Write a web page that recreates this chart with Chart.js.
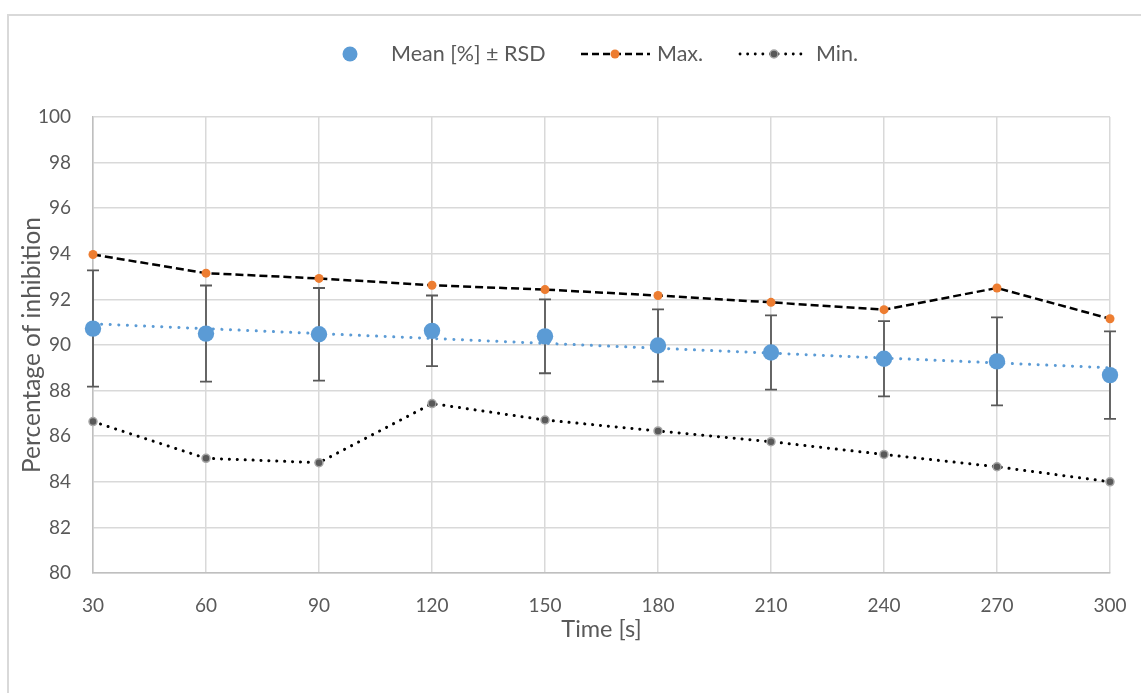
<!DOCTYPE html>
<html><head><meta charset="utf-8">
<script src="https://cdn.jsdelivr.net/npm/chart.js@4.4.1/dist/chart.umd.min.js"></script>
<style>
html,body{margin:0;padding:0;background:#fff;overflow:hidden}
#wrap{position:relative;width:1141px;height:693px;background:#fff}
#frame{position:absolute;left:7px;top:14px;width:1200px;height:800px;border:2px solid #d9d9d9;box-sizing:border-box}
canvas{position:absolute;left:0;top:0}
</style></head><body>
<div id="wrap"><div id="frame"></div><canvas id="c" width="1141" height="693"></canvas></div>
<script>
const times = [30, 60, 90, 120, 150, 180, 210, 240, 270, 300];
const meanValues = [90.72, 90.50, 90.47, 90.62, 90.38, 89.98, 89.67, 89.40, 89.28, 88.68];
const rsdValues = [2.55, 2.11, 2.03, 1.55, 1.62, 1.58, 1.63, 1.65, 1.93, 1.92];
const maxValues = [93.97, 93.15, 92.92, 92.62, 92.43, 92.17, 91.87, 91.55, 92.50, 91.15];
const minValues = [86.64, 85.03, 84.84, 87.43, 86.71, 86.23, 85.76, 85.20, 84.66, 84.00];
const trendTimes = [30, 300];
const trendValues = [90.93, 89.00];
const seriesLabels = ['Mean [%] ± RSD', 'Max.', 'Min.'];
const xTitle = 'Time [s]';
const yTitle = 'Percentage of inhibition';

const FONT = 'Lato, "Open Sans", sans-serif';
const TXT = '#595959';
const BLUE = '#5B9BD5';
const ORANGE = '#ED7D31';

const pts = (xs, ys) => xs.map((x, i) => ({x: x, y: ys[i]}));

const errorBars = {
  id: 'errorBars',
  beforeDatasetsDraw(chart) {
    const {ctx, scales: {x, y}} = chart;
    ctx.save();
    ctx.strokeStyle = TXT;
    ctx.lineWidth = 1.8;
    times.forEach((t, i) => {
      const px = x.getPixelForValue(t);
      const top = y.getPixelForValue(meanValues[i] + rsdValues[i]);
      const bot = y.getPixelForValue(meanValues[i] - rsdValues[i]);
      ctx.beginPath();
      ctx.moveTo(px, top); ctx.lineTo(px, bot);
      ctx.moveTo(px - 6, top); ctx.lineTo(px + 6, top);
      ctx.moveTo(px - 6, bot); ctx.lineTo(px + 6, bot);
      ctx.stroke();
    });
    ctx.restore();
  }
};

const customLegend = {
  id: 'customLegend',
  afterDraw(chart) {
    const ctx = chart.ctx;
    const cy = 54;
    ctx.save();
    ctx.font = '21.5px ' + FONT;
    ctx.fillStyle = TXT;
    ctx.textBaseline = 'middle';
    // Mean
    ctx.beginPath(); ctx.fillStyle = BLUE; ctx.arc(350, cy, 7.5, 0, Math.PI * 2); ctx.fill();
    ctx.fillStyle = TXT; ctx.fillText(seriesLabels[0], 391, cy);
    // Max
    ctx.strokeStyle = '#000'; ctx.lineWidth = 2.5; ctx.setLineDash([7, 4]);
    ctx.beginPath(); ctx.moveTo(581, cy); ctx.lineTo(650, cy); ctx.stroke();
    ctx.setLineDash([]);
    ctx.beginPath(); ctx.fillStyle = ORANGE; ctx.arc(615, cy, 4.5, 0, Math.PI * 2); ctx.fill();
    ctx.fillStyle = TXT; ctx.fillText(seriesLabels[1], 657, cy);
    // Min
    ctx.lineCap = 'round'; ctx.lineWidth = 2.8; ctx.setLineDash([0.1, 7.5]);
    ctx.beginPath(); ctx.moveTo(740, cy); ctx.lineTo(804, cy); ctx.stroke();
    ctx.setLineDash([]);
    ctx.beginPath(); ctx.fillStyle = '#595959'; ctx.strokeStyle = '#a6a6a6'; ctx.lineWidth = 1.5;
    ctx.arc(774, cy, 4, 0, Math.PI * 2); ctx.fill(); ctx.stroke();
    ctx.fillStyle = TXT; ctx.fillText(seriesLabels[2], 816, cy);
    ctx.restore();
  }
};

new Chart(document.getElementById('c'), {
  type: 'line',
  data: {
    datasets: [
      {
        label: seriesLabels[0],
        data: pts(times, meanValues),
        showLine: false,
        pointRadius: 8.2,
        pointHoverRadius: 8.2,
        pointBackgroundColor: BLUE,
        pointBorderWidth: 0,
        borderColor: BLUE,
        order: 0,
        clip: false
      },
      {
        label: seriesLabels[1],
        data: pts(times, maxValues),
        borderColor: '#000',
        borderWidth: 2.5,
        borderDash: [8, 4],
        pointRadius: 4.5,
        pointBackgroundColor: ORANGE,
        pointBorderWidth: 0,
        tension: 0,
        order: 1,
        clip: false
      },
      {
        label: seriesLabels[2],
        data: pts(times, minValues),
        borderColor: '#000',
        borderWidth: 3,
        borderDash: [0.1, 7.8],
        borderCapStyle: 'round',
        pointRadius: 4,
        pointBackgroundColor: '#595959',
        pointBorderColor: '#a6a6a6',
        pointBorderWidth: 1.5,
        tension: 0,
        order: 1,
        clip: false
      },
      {
        label: 'trend',
        data: pts(trendTimes, trendValues),
        borderColor: BLUE,
        borderWidth: 3,
        borderDash: [0.1, 8.5],
        borderCapStyle: 'round',
        pointRadius: 0,
        order: 2,
        clip: false
      }
    ]
  },
  options: {
    responsive: false,
    animation: false,
    devicePixelRatio: 1,
    layout: {padding: {top: 117, right: 31, left: 0, bottom: 0}},
    plugins: {legend: {display: false}, tooltip: {enabled: false}},
    scales: {
      x: {
        type: 'linear',
        min: 30, max: 300,
        ticks: {stepSize: 30, color: TXT, font: {family: FONT, size: 19}, padding: 21, maxRotation: 0},
        grid: {color: '#d9d9d9', lineWidth: 1.5, drawTicks: false},
        border: {color: '#bfbfbf', width: 1.5},
        title: {display: true, text: xTitle, color: TXT, font: {family: FONT, size: 23.5}, padding: {top: 0, bottom: 49}},
        afterFit(s) { s.height = 120; s.paddingRight = 0; s.paddingLeft = 0; }
      },
      y: {
        min: 80, max: 100,
        ticks: {stepSize: 2, color: TXT, font: {family: FONT, size: 19}, padding: 22},
        grid: {color: '#d9d9d9', lineWidth: 1.5, drawTicks: false},
        border: {color: '#bfbfbf', width: 1.5},
        title: {display: true, text: yTitle, color: TXT, font: {family: FONT, size: 24.5}, padding: {top: 17, bottom: 0}},
        afterFit(s) { s.width = 93; s.paddingTop = 0; s.paddingBottom = 0; }
      }
    }
  },
  plugins: [errorBars, customLegend]
});
</script>
</body></html>
